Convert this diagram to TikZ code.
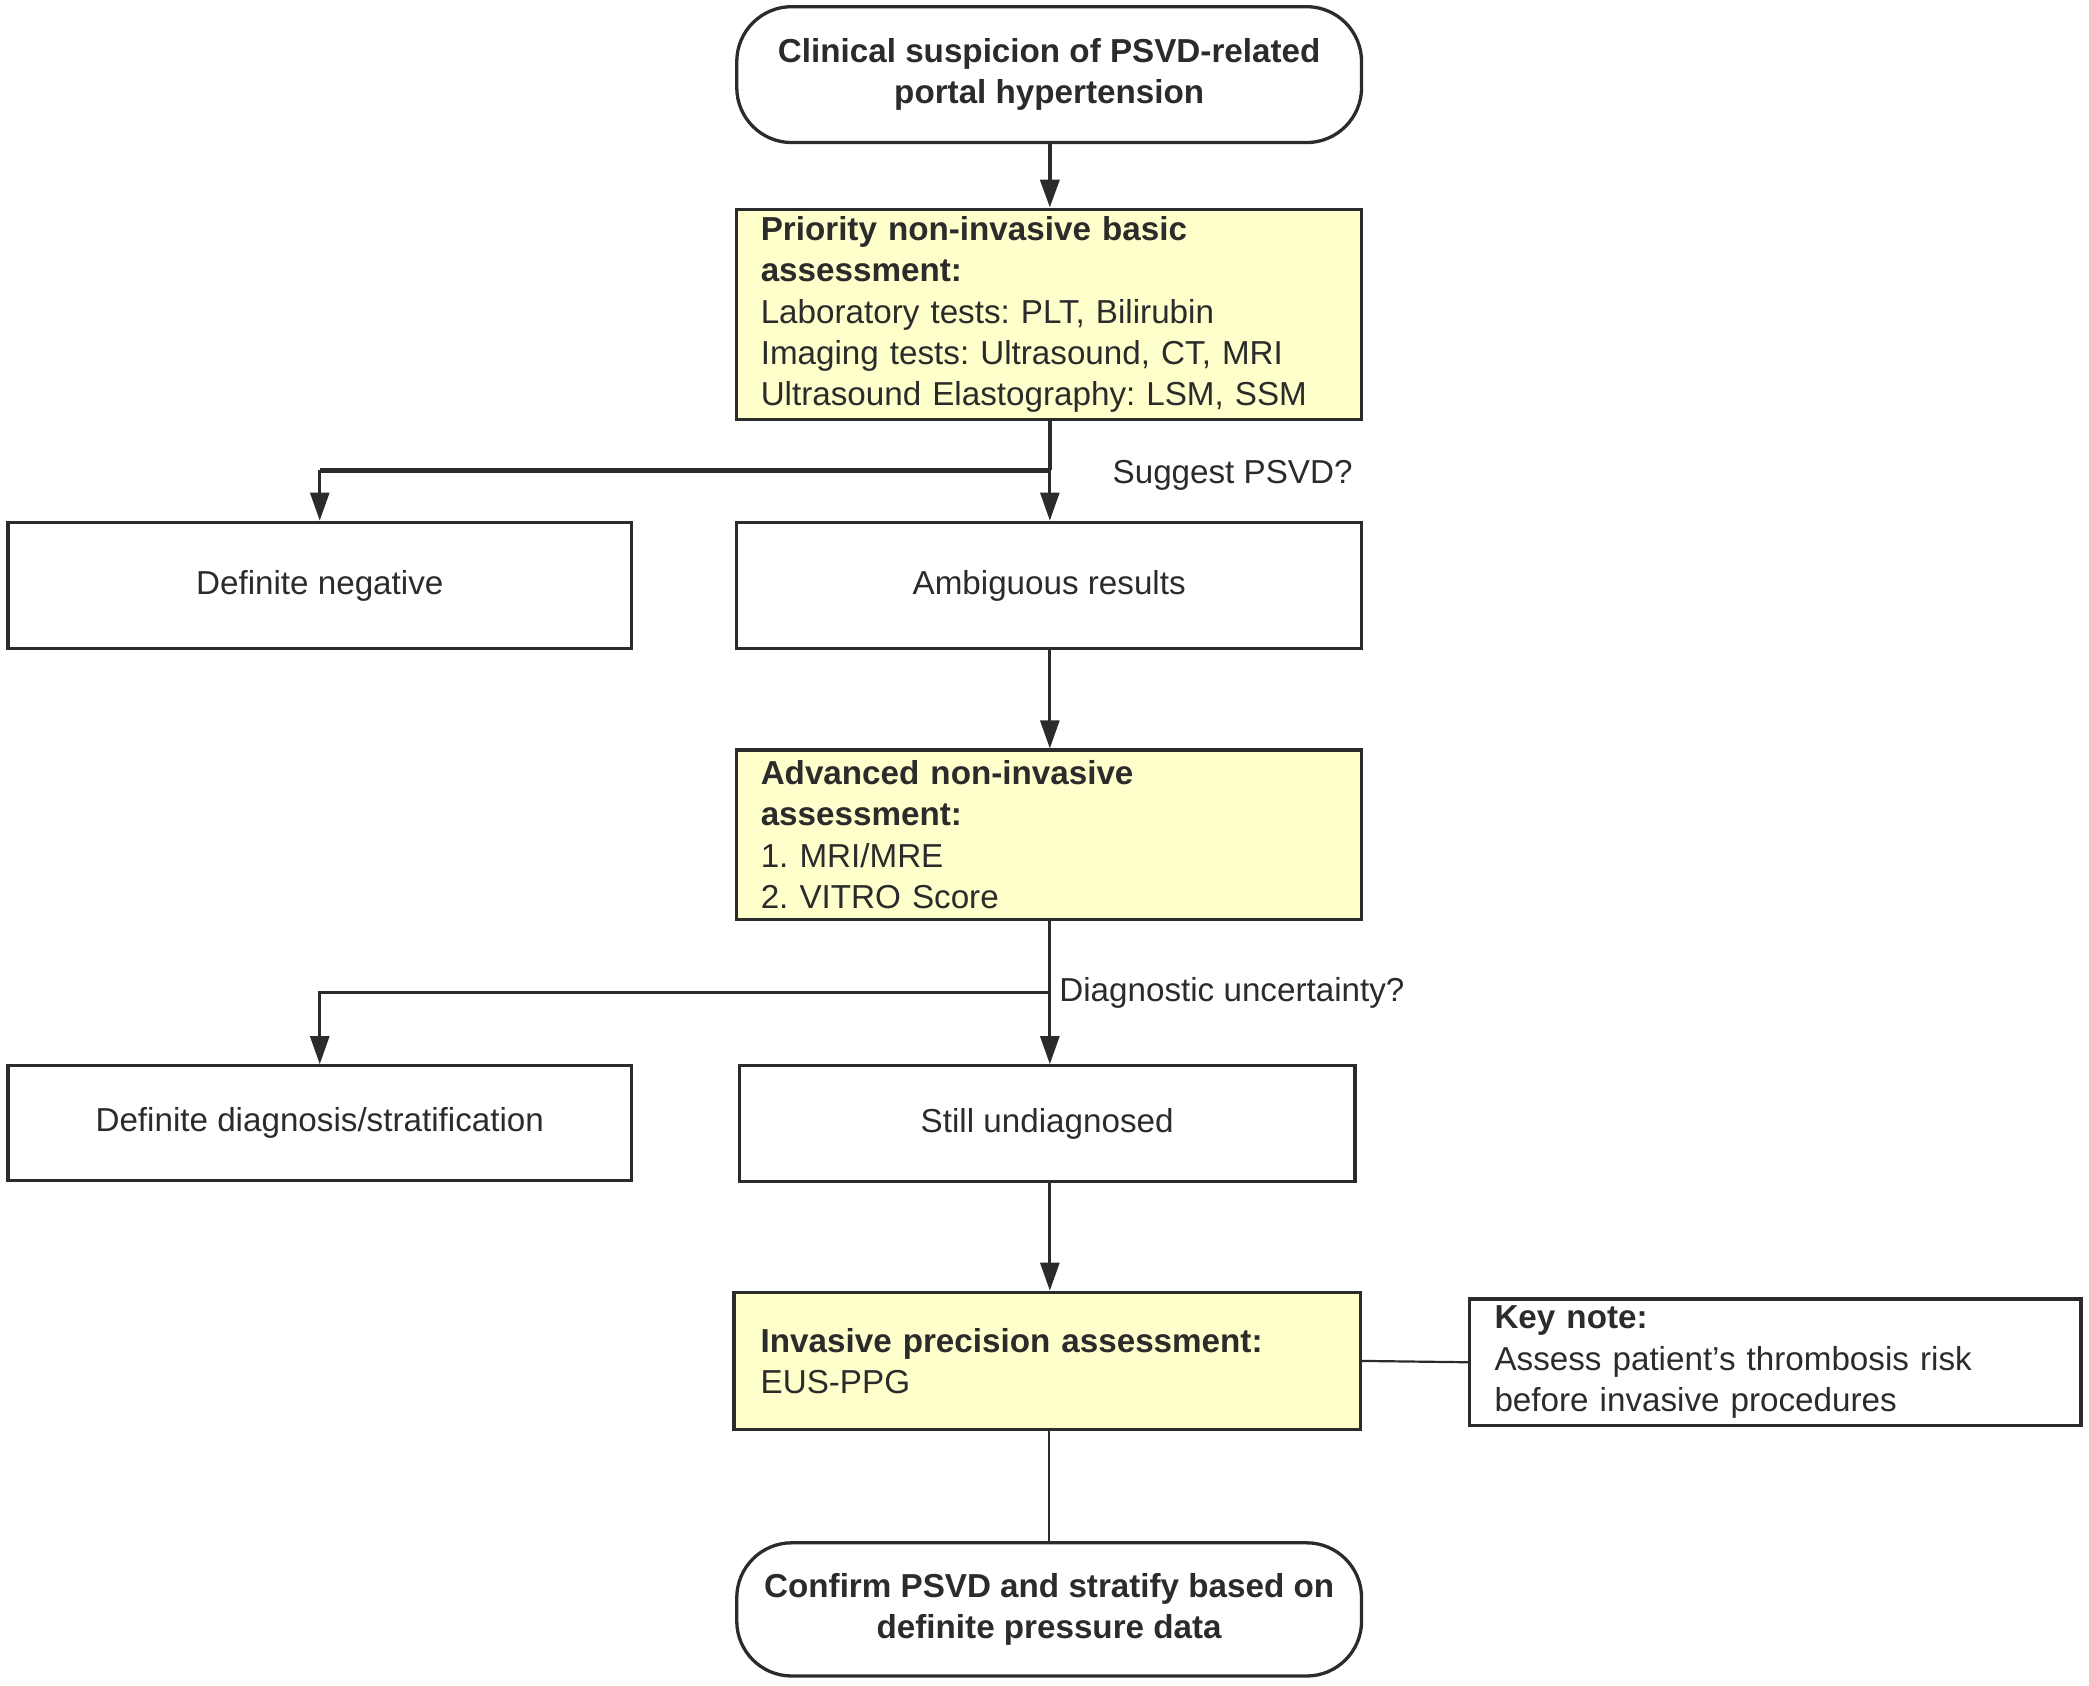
\documentclass[tikz,border=0pt]{standalone}
\usepackage{fontspec}
\setmainfont{Liberation Sans}
\usetikzlibrary{arrows.meta,positioning}
\definecolor{lc}{HTML}{2B2B2B}
\definecolor{tc}{HTML}{2B2B2B}
\definecolor{yfill}{HTML}{FFFFCC}
\frenchspacing
\newcommand{\fsz}{\fontsize{33.2}{41.3}\selectfont\frenchspacing}
\tikzset{
  base/.style={draw=lc, line width=3.3pt, font=\fsz, text=tc, inner sep=0pt},
  term/.style={base, rounded corners=55pt, minimum width=624.8pt, align=center, font=\fsz\bfseries},
  plainbox/.style={base, align=center},
  yel/.style={base, fill=yfill, align=left, inner xsep=24pt, text width=576.8pt},
  arr/.style={draw=lc, line width=2.7pt, -{Triangle[length=28pt,width=19pt]}},
  thickarr/.style={arr, line width=4pt},
  conn/.style={draw=lc, line width=2.2pt},
  lbl/.style={font=\fsz, text=tc, inner sep=0pt, anchor=west},
}
\begin{document}
\begin{tikzpicture}[x=1.33227pt, y=-1.33227pt]
\useasboundingbox (0,0) rectangle (1568,1265.5);

\node[term, minimum height=135.9pt] (start) at (787.5,56)
  {Clinical suspicion of PSVD-related\\portal hypertension};

\node[yel, minimum height=210.5pt] (basic) at (787.5,236)
  {\textbf{Priority non-invasive basic}\\\textbf{assessment:}\\Laboratory tests: PLT, Bilirubin\\Imaging tests: Ultrasound, CT, MRI\\Ultrasound Elastography: LSM, SSM};

\node[plainbox, minimum width=623.5pt, minimum height=126.6pt] (neg) at (240,439.5) {Definite negative};
\node[plainbox, minimum width=624.8pt, minimum height=126.6pt] (amb) at (787.5,439.5) {Ambiguous results};

\node[yel, minimum height=169.2pt] (adv) at (787.5,626.5)
  {\textbf{Advanced non-invasive}\\\textbf{assessment:}\\1. MRI/MRE\\2. VITRO Score};

\node[plainbox, minimum width=623.5pt, minimum height=114.6pt] (diag) at (240,843) {Definite diagnosis/stratification};
\node[plainbox, minimum width=615.5pt, minimum height=115.9pt] (still) at (786,843.5) {Still undiagnosed};

\node[yel, inner xsep=26.6pt, text width=573pt, minimum height=137.2pt] (inv) at (786,1021.5)
  {\textbf{Invasive precision assessment:}\\EUS-PPG};

\node[base, align=left, inner xsep=25pt, text width=561.5pt, minimum height=126.6pt] (key) at (1332.5,1022.5)
  {\textbf{Key note:}\\Assess patient’s thrombosis risk\\before invasive procedures};

\node[term, minimum height=133.2pt] (end) at (787.5,1208)
  {Confirm PSVD and stratify based on\\definite pressure data};

% connectors
\coordinate (b1) at (788,353);
\coordinate (b2) at (788,745);

\draw[thickarr] (start.south -| b1) -- (basic.north -| b1);
\draw[conn, line width=4pt] (basic.south -| b1) -- (b1);
\draw[conn, line width=5pt] (b1) -- (b1 -| neg.north);
\draw[arr] (b1 -| neg.north) -- (neg.north);
\draw[arr] (b1) -- (amb.north -| b1);
\node[lbl] (l1) at (835,357) {Suggest PSVD?};

\draw[arr] (amb.south -| b1) -- (adv.north -| b1);

\draw[conn, line width=2.7pt] (adv.south -| b2) -- (b2);
\draw[arr] (b2) -| (diag.north);
\draw[arr] (b2) -- (still.north -| b2);
\node[lbl] (l2) at (795,745) {Diagnostic uncertainty?};

\draw[arr] (still.south -| b2) -- (inv.north -| b2);
\draw[conn] (inv.east) -- (key.west);
\draw[conn] (inv.south -| end.north) -- (end.north);
\end{tikzpicture}
\end{document}
